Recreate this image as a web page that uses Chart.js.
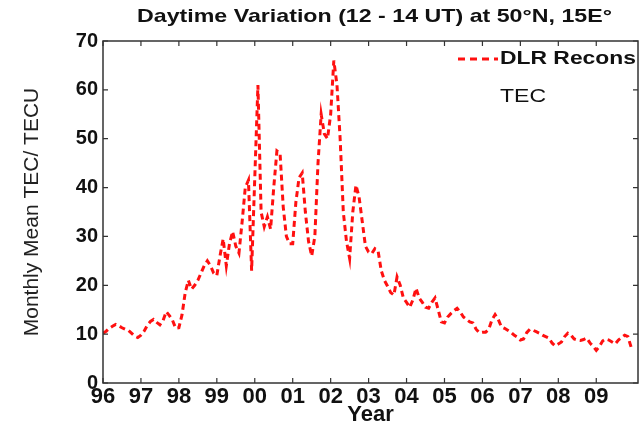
<!DOCTYPE html>
<html>
<head>
<meta charset="utf-8">
<script src="https://cdn.jsdelivr.net/npm/chart.js@4/dist/chart.umd.min.js"></script>
<style>
  html, body { margin: 0; padding: 0; background: #fff; }
  #wrap { width: 641px; height: 428px; }
</style>
</head>
<body>
<div id="wrap"><canvas id="chart-tec" width="641" height="428"></canvas></div>
<script>
// monthly mean TEC (TECU), Jan..Dec of each year
const tec96 = [10.2, 10.6, 11.2, 11.6, 12.0, 11.7, 11.3, 11.0, 10.8, 10.2, 9.6, 9.3];
const tec97 = [9.8, 10.6, 11.8, 12.6, 13.0, 12.4, 11.9, 12.8, 14.6, 13.8, 12.8, 11.2];
const tec98 = [11.3, 14.0, 18.5, 21.0, 19.2, 20.0, 21.0, 22.5, 24.0, 25.0, 24.0, 22.5];
const tec99 = [22.0, 26.0, 29.5, 24.0, 28.5, 31.0, 28.0, 26.6, 33.0, 40.0, 41.5, 23.0];
const tec00 = [42.0, 61.0, 35.0, 32.0, 34.0, 31.5, 40.0, 47.5, 47.0, 36.0, 30.0, 28.5];
const tec01 = [28.5, 37.0, 42.0, 43.0, 35.0, 29.0, 26.0, 30.0, 45.0, 55.0, 51.0, 50.0];
const tec02 = [55.0, 66.0, 61.0, 50.0, 35.0, 29.0, 25.5, 35.0, 40.5, 38.0, 33.0, 28.0];
const tec03 = [26.8, 26.5, 27.5, 27.0, 23.0, 21.0, 19.8, 18.5, 18.0, 21.7, 20.0, 17.4];
const tec04 = [16.5, 15.5, 17.0, 19.4, 17.4, 16.5, 15.5, 15.3, 16.5, 17.4, 15.0, 12.5];
const tec05 = [12.3, 13.5, 14.2, 14.8, 15.3, 14.5, 13.5, 13.0, 12.5, 12.3, 11.0, 10.3];
const tec06 = [10.4, 10.4, 11.0, 12.9, 14.0, 13.0, 11.5, 11.2, 10.8, 10.4, 9.8, 9.4];
const tec07 = [8.8, 9.0, 10.3, 11.0, 10.8, 10.5, 10.2, 9.8, 9.5, 9.2, 8.2, 7.6];
const tec08 = [8.0, 8.4, 9.5, 10.2, 9.8, 9.0, 8.8, 8.7, 8.9, 9.2, 8.2, 7.5];
const tec09 = [6.7, 7.5, 8.6, 9.0, 8.8, 8.4, 8.0, 8.8, 9.3, 9.8, 9.5, 7.4];

const startYear = 1996;
const yearTicks = [1996, 1997, 1998, 1999, 2000, 2001, 2002, 2003, 2004, 2005, 2006, 2007, 2008, 2009];
const yTicks = [0, 10, 20, 30, 40, 50, 60, 70];

const seriesLabel = 'DLR Recons';
const seriesLabel2 = 'TEC';
const titleText = 'Daytime Variation (12 - 14 UT) at 50°N, 15E°';

const allTec = [].concat(tec96, tec97, tec98, tec99, tec00, tec01, tec02,
                         tec03, tec04, tec05, tec06, tec07, tec08, tec09);
const points = allTec.map((v, i) => ({ x: startYear + i / 12, y: v }));

const RED = '#ff1010';
const FONT = "'Liberation Sans', Arial, sans-serif";

// text squeezed/stretched to a width, the source figure is a bit wide
function wideText(ctx, text, x, y, width) {
    const w = ctx.measureText(text).width;
    ctx.save();
    ctx.translate(x, y);
    ctx.scale(width / w, 1);
    ctx.fillText(text, 0, 0);
    ctx.restore();
}

// frame, inward ticks, title and legend (matlab look)
const matlabFrame = {
    id: 'matlabFrame',
    afterDraw(chart) {
        const { ctx, chartArea: a, scales } = chart;
        ctx.save();
        ctx.strokeStyle = '#333';
        ctx.lineWidth = 1.5;
        ctx.strokeRect(a.left, a.top, a.right - a.left, a.bottom - a.top);
        ctx.lineWidth = 1.2;
        ctx.beginPath();
        yearTicks.forEach(t => {
            const px = scales.x.getPixelForValue(t);
            ctx.moveTo(px, a.bottom); ctx.lineTo(px, a.bottom - 5);
            ctx.moveTo(px, a.top); ctx.lineTo(px, a.top + 5);
        });
        yTicks.forEach(t => {
            const py = scales.y.getPixelForValue(t);
            ctx.moveTo(a.left, py); ctx.lineTo(a.left + 5, py);
            ctx.moveTo(a.right, py); ctx.lineTo(a.right - 5, py);
        });
        ctx.stroke();

        // title
        ctx.fillStyle = '#111';
        ctx.font = 'bold 19px ' + FONT;
        ctx.textAlign = 'left';
        ctx.textBaseline = 'middle';
        wideText(ctx, titleText, 137, 17, 475);

        // legend
        ctx.strokeStyle = RED;
        ctx.lineWidth = 3;
        ctx.setLineDash([7, 5]);
        ctx.beginPath();
        ctx.moveTo(458, 59); ctx.lineTo(498, 59);
        ctx.stroke();
        ctx.setLineDash([]);
        ctx.font = 'bold 19px ' + FONT;
        wideText(ctx, seriesLabel, 500, 59, 136);
        ctx.font = '19px ' + FONT;
        wideText(ctx, seriesLabel2, 500, 97, 46);
        ctx.restore();
    }
};

const tecChart = new Chart(document.getElementById('chart-tec'), {
    type: 'line',
    data: {
        datasets: [{
            label: seriesLabel,
            data: points,
            borderColor: RED,
            borderWidth: 3,
            borderDash: [6, 4],
            pointRadius: 0,
            tension: 0,
            fill: false
        }]
    },
    options: {
        responsive: false,
        animation: false,
        layout: { padding: { top: 41, right: 3, left: 0, bottom: 0 } },
        plugins: {
            legend: { display: false },
            title: { display: false },
            tooltip: { enabled: false }
        },
        scales: {
            x: {
                type: 'linear',
                min: 1996,
                max: 2010.1,
                grid: { display: false, drawTicks: false },
                border: { display: false },
                afterBuildTicks: (scale) => {
                    scale.ticks = yearTicks.map(v => ({ value: v }));
                },
                ticks: {
                    autoSkip: false,
                    maxRotation: 0,
                    padding: 1,
                    color: '#111',
                    font: { family: FONT, size: 22, weight: 'bold' },
                    callback: (v) => String(v % 100).padStart(2, '0')
                },
                title: {
                    display: true,
                    text: 'Year',
                    color: '#111',
                    padding: { top: 0, bottom: 0 },
                    font: { family: FONT, size: 22, weight: 'bold' }
                },
                afterFit: (scale) => { scale.height = 45; }
            },
            y: {
                min: 0,
                max: 70,
                grid: { display: false, drawTicks: false },
                border: { display: false },
                afterBuildTicks: (scale) => {
                    scale.ticks = yTicks.map(v => ({ value: v }));
                },
                ticks: {
                    padding: 5,
                    color: '#111',
                    font: { family: FONT, size: 20, weight: 'bold' }
                },
                title: {
                    display: true,
                    text: 'Monthly Mean TEC/ TECU',
                    color: '#222',
                    padding: { top: 20, bottom: 0 },
                    font: { family: FONT, size: 21 }
                },
                afterFit: (scale) => { scale.width = 103; }
            }
        }
    },
    plugins: [matlabFrame]
});
</script>
</body>
</html>
